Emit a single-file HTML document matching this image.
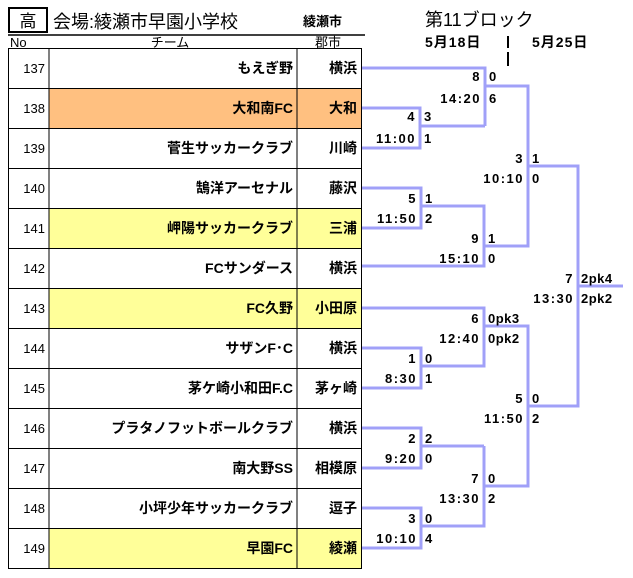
<!DOCTYPE html>
<html><head><meta charset="utf-8"><style>
body{margin:0;background:#fff;width:633px;height:573px;overflow:hidden}
svg text{font-family:"Liberation Sans","Noto Sans CJK JP",sans-serif}
</style></head><body>
<svg width="633" height="573" xmlns="http://www.w3.org/2000/svg">
<rect x="9" y="8" width="38" height="24" fill="none" stroke="#000" stroke-width="2"/>
<text x="28" y="27" font-size="17" text-anchor="middle">高</text>
<text x="53" y="28" font-size="18">会場:綾瀬市早園小学校</text>
<text x="303" y="26" font-size="13" font-weight="bold">綾瀬市</text>
<line x1="8" y1="35" x2="365" y2="35" stroke="#000" stroke-width="1.5"/>
<text x="10" y="47" font-size="13">No</text>
<text x="170" y="47" font-size="13" text-anchor="middle">チーム</text>
<text x="328" y="47" font-size="13" text-anchor="middle">郡市</text>
<text x="425" y="26" font-size="18">第11ブロック</text>
<g font-size="14" font-weight="bold" letter-spacing="1"><text x="425" y="47">5月18日</text><text x="532" y="47">5月25日</text></g>
<line x1="508" y1="36" x2="508" y2="48" stroke="#000" stroke-width="2"/>
<line x1="508" y1="52" x2="508" y2="66" stroke="#000" stroke-width="2"/>
<g>
<rect x="49" y="88" width="313" height="40" fill="#ffc080"/>
<rect x="49" y="208" width="313" height="40" fill="#ffff99"/>
<rect x="49" y="288" width="313" height="40" fill="#ffff99"/>
<rect x="49" y="528" width="313" height="40" fill="#ffff99"/>
</g>
<g stroke="#000" stroke-width="1" fill="none">
<rect x="8.5" y="48.5" width="353" height="520"/>
<line x1="49" y1="48" x2="49" y2="568"/><line x1="297" y1="48" x2="297" y2="568"/>
<path d="M8 88.5H362M8 128.5H362M8 168.5H362M8 208.5H362M8 248.5H362M8 288.5H362M8 328.5H362M8 368.5H362M8 408.5H362M8 448.5H362M8 488.5H362M8 528.5H362"/>
</g>
<g font-size="13">
<text x="45" y="73" text-anchor="end">137</text><text x="45" y="113" text-anchor="end">138</text><text x="45" y="153" text-anchor="end">139</text><text x="45" y="193" text-anchor="end">140</text><text x="45" y="233" text-anchor="end">141</text><text x="45" y="273" text-anchor="end">142</text><text x="45" y="313" text-anchor="end">143</text><text x="45" y="353" text-anchor="end">144</text><text x="45" y="393" text-anchor="end">145</text><text x="45" y="433" text-anchor="end">146</text><text x="45" y="473" text-anchor="end">147</text><text x="45" y="513" text-anchor="end">148</text><text x="45" y="553" text-anchor="end">149</text>
</g>
<g font-size="14" font-weight="bold" text-anchor="end">
<text x="293" y="73">もえぎ野</text><text x="357" y="73">横浜</text>
<text x="293" y="113">大和南FC</text><text x="357" y="113">大和</text>
<text x="293" y="153">菅生サッカークラブ</text><text x="357" y="153">川崎</text>
<text x="293" y="193">鵠洋アーセナル</text><text x="357" y="193">藤沢</text>
<text x="293" y="233">岬陽サッカークラブ</text><text x="357" y="233">三浦</text>
<text x="293" y="273">FCサンダース</text><text x="357" y="273">横浜</text>
<text x="293" y="313">FC久野</text><text x="357" y="313">小田原</text>
<text x="293" y="353">サザンF･C</text><text x="357" y="353">横浜</text>
<text x="293" y="393">茅ケ崎小和田F.C</text><text x="357" y="393">茅ヶ崎</text>
<text x="293" y="433">プラタノフットボールクラブ</text><text x="357" y="433">横浜</text>
<text x="293" y="473">南大野SS</text><text x="357" y="473">相模原</text>
<text x="293" y="513">小坪少年サッカークラブ</text><text x="357" y="513">逗子</text>
<text x="293" y="553">早園FC</text><text x="357" y="553">綾瀬</text>
</g>
<g stroke="#a0a0f8" stroke-width="3" fill="none">
<path d="M362 68H485V126"/>
<path d="M362 108H420V148H362M420 126H485"/>
<path d="M485 86H528V246H484"/>
<path d="M362 188H421V228H362M421 206H484V266H362"/>
<path d="M528 166H578V406H528"/>
<path d="M578 286H623"/>
<path d="M362 308H484V366H421"/>
<path d="M362 348H421V388H362"/>
<path d="M484 326H528V486H484"/>
<path d="M362 428H421V468H362M421 446H484"/>
<path d="M362 508H421V548H362M421 526H484V446"/>
</g>
<g font-size="13" font-weight="bold" letter-spacing="1.5">
<g text-anchor="end">
<text x="481" y="81">8</text><text x="481" y="103">14:20</text>
<text x="416" y="121">4</text><text x="416" y="143">11:00</text>
<text x="524" y="163">3</text><text x="524" y="183">10:10</text>
<text x="417" y="203">5</text><text x="417" y="223">11:50</text>
<text x="480" y="243">9</text><text x="480" y="263">15:10</text>
<text x="574" y="283">7</text><text x="574" y="303">13:30</text>
<text x="480" y="323">6</text><text x="480" y="343">12:40</text>
<text x="417" y="363">1</text><text x="417" y="383">8:30</text>
<text x="524" y="403">5</text><text x="524" y="423">11:50</text>
<text x="417" y="443">2</text><text x="417" y="463">9:20</text>
<text x="480" y="483">7</text><text x="480" y="503">13:30</text>
<text x="417" y="523">3</text><text x="417" y="543">10:10</text>
</g>
<g letter-spacing="0.5">
<text x="489" y="81">0</text><text x="489" y="103">6</text>
<text x="424" y="121">3</text><text x="424" y="143">1</text>
<text x="532" y="163">1</text><text x="532" y="183">0</text>
<text x="425" y="203">1</text><text x="425" y="223">2</text>
<text x="488" y="243">1</text><text x="488" y="263">0</text>
<text x="581" y="283">2pk4</text><text x="581" y="303">2pk2</text>
<text x="488" y="323">0pk3</text><text x="488" y="343">0pk2</text>
<text x="425" y="363">0</text><text x="425" y="383">1</text>
<text x="532" y="403">0</text><text x="532" y="423">2</text>
<text x="425" y="443">2</text><text x="425" y="463">0</text>
<text x="488" y="483">0</text><text x="488" y="503">2</text>
<text x="425" y="523">0</text><text x="425" y="543">4</text>
</g>
</g>
</svg>
</body></html>
